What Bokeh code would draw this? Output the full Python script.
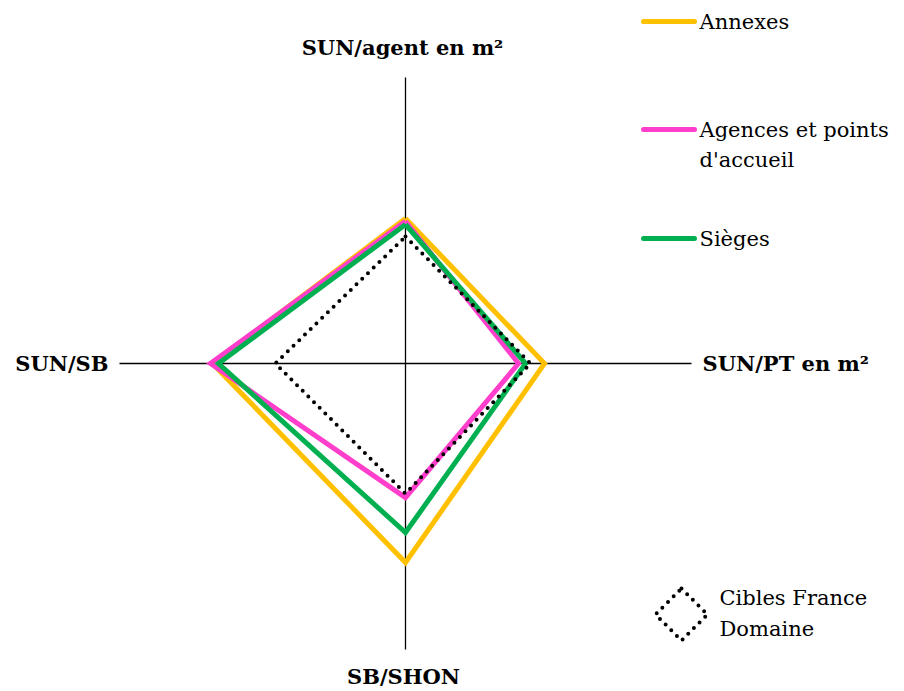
from bokeh.plotting import figure
from bokeh.models import Range1d, Label
from bokeh.embed import file_html
from bokeh.resources import INLINE
import numpy as np

# Axes (clockwise from top)
axes_labels = ["SUN/agent en m²", "SUN/PT en m²", "SB/SHON", "SUN/SB"]
series_names = ["Annexes", "Agences et points", "d'accueil", "Sièges"]
target_name = ["Cibles France", "Domaine"]
annexes = [5.07, 4.86, 6.96, 6.75]
agences = [4.97, 3.95, 4.69, 6.82]
sieges = [4.86, 4.20, 5.91, 6.54]
cibles = [4.44, 4.37, 4.55, 4.55]
axis_max = 10.0

W, H = 904, 691
S = 28.6            # pixels per unit
CX, CY = 405, 363   # centre in canvas pixels (from top-left)

def dx(px):  # page pixel x -> data
    return (px - CX) / S

def dy(py):  # page pixel y -> data
    return (CY - py) / S

p = figure(width=W, height=H, output_backend="svg", toolbar_location=None,
           x_range=Range1d(-CX / S, (W - CX) / S), y_range=Range1d(-(H - CY) / S, CY / S),
           min_border=0)
p.axis.visible = False
p.grid.visible = False
p.outline_line_color = None
p.background_fill_color = "white"

# angles: top, right, bottom, left
ang = np.array([np.pi / 2, 0.0, -np.pi / 2, np.pi])

# axis lines
p.segment(x0=[0, -axis_max], y0=[-axis_max, 0], x1=[0, axis_max], y1=[axis_max, 0],
          line_color="black", line_width=1.3)

def poly(vals):
    v = np.array(vals + [vals[0]])
    a = np.append(ang, ang[0])
    return v * np.cos(a), v * np.sin(a)

colors = ["#FFC000", "#FF3FCC", "#00B050"]
for vals, col in zip([annexes, agences, sieges], colors):
    xs, ys = poly(vals)
    p.line(xs, ys, line_color=col, line_width=5, line_join="miter")

xs, ys = poly(cibles)
p.line(xs, ys, line_color="black", line_width=4, line_dash="0 8", line_cap="round")

serif = "DejaVu Serif"

def label(text, px, py, align="left", baseline="middle", bold=False, size="21px"):
    p.add_layout(Label(x=dx(px), y=dy(py), text=text, text_align=align,
                       text_baseline=baseline, text_font=serif, text_font_size=size,
                       text_font_style="bold" if bold else "normal", text_color="black"))

# axis titles
label(axes_labels[0], 402, 47, align="center", bold=True)
label(axes_labels[1], 702, 363, align="left", bold=True)
label(axes_labels[2], 403, 676, align="center", bold=True)
label(axes_labels[3], 108, 363, align="right", bold=True)

# legend
leg_y = [21, 129, 238]
for yy, col in zip(leg_y, colors):
    p.line([dx(643), dx(694)], [dy(yy), dy(yy)], line_color=col, line_width=5, line_cap="round")
label(series_names[0], 699, 21)
label(series_names[1], 699, 129)
label(series_names[2], 699, 159)
label(series_names[3], 699, 238)

# dotted diamond icon
icx, icy, r = 681, 614, 26
ixs = [dx(icx), dx(icx + r), dx(icx), dx(icx - r), dx(icx)]
iys = [dy(icy - r), dy(icy), dy(icy + r), dy(icy), dy(icy - r)]
p.line(ixs, iys, line_color="black", line_width=4, line_dash="0 8", line_cap="round")
label(target_name[0], 719, 597)
label(target_name[1], 719, 628)

open("out.html", "w").write(file_html(p, INLINE))
